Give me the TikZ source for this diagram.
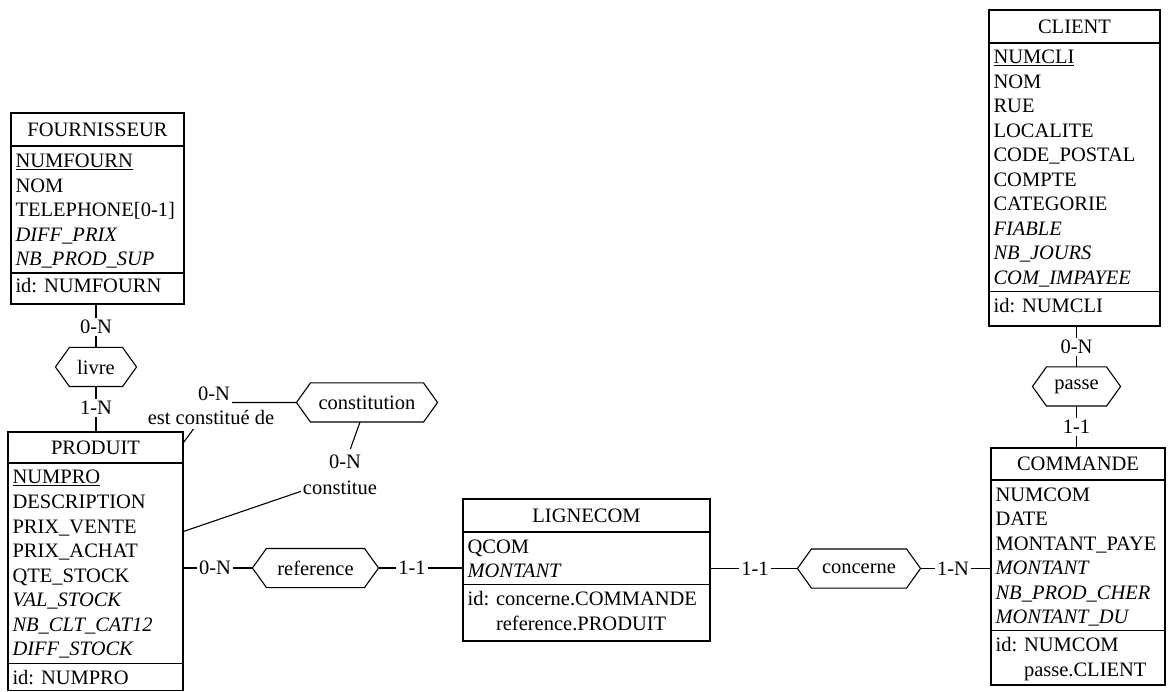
\documentclass[tikz,border=0pt]{standalone}
\usepackage{fontspec}
\setmainfont{Liberation Serif}
\begin{document}
\begin{tikzpicture}[x=1pt,y=-1pt,line width=1.1pt,
  font=\fontsize{20.5}{24.5}\selectfont,
  ent/.style={draw,rectangle,inner sep=0pt},
  hexn/.style={inner sep=0pt,minimum height=38pt},
  row/.style={anchor=base west,inner sep=0pt},
  hdr/.style={anchor=base,inner sep=0pt},
  card/.style={fill=white,inner xsep=2pt,inner ysep=2pt}]
\useasboundingbox (0,0) rectangle (1168,692);

% ---------- FOURNISSEUR ----------
\node[ent,minimum width=173pt,minimum height=191pt] (fourn) at (97.5,208.5) {};
\draw (11,146) -- (184,146);
\draw (11,273) -- (184,273);
\node[hdr] (fH) at (97.5,136.5) {FOURNISSEUR};
\node[row] (f1) at (15,168) {\underline{NUMFOURN}};
\node[row] (f2) at (15,192.5) {NOM};
\node[row] (f3) at (15,217) {TELEPHONE[0-1]};
\node[row] (f4) at (15,241.5) {\textit{DIFF\_PRIX}};
\node[row] (f5) at (15,266) {\textit{NB\_PROD\_SUP}};
\node[row] (f6) at (15,293) {id: NUMFOURN};

% ---------- PRODUIT ----------
\node[ent,minimum width=175pt,minimum height=258.5pt] (produit) at (95.5,561.25) {};
\draw (8,463) -- (183,463);
\draw (8,663.5) -- (183,663.5);
\node[hdr] (pH) at (95.5,454.5) {PRODUIT};
\node[row] (p1) at (12,484) {\underline{NUMPRO}};
\node[row] (p2) at (12,508.5) {DESCRIPTION};
\node[row] (p3) at (12,533) {PRIX\_VENTE};
\node[row] (p4) at (12,557.5) {PRIX\_ACHAT};
\node[row] (p5) at (12,582) {QTE\_STOCK};
\node[row] (p6) at (12,606.5) {\textit{VAL\_STOCK}};
\node[row] (p7) at (12,631) {\textit{NB\_CLT\_CAT12}};
\node[row] (p8) at (12,655.5) {\textit{DIFF\_STOCK}};
\node[row] (p9) at (12,684) {id: NUMPRO};

% ---------- CLIENT ----------
\node[ent,minimum width=171pt,minimum height=316pt] (client) at (1074.5,168) {};
\draw (989,43) -- (1160,43);
\draw (989,291.5) -- (1160,291.5);
\node[hdr] (cH) at (1074.5,33.5) {CLIENT};
\node[row] (c1) at (993,64) {\underline{NUMCLI}};
\node[row] (c2) at (993,88.5) {NOM};
\node[row] (c3) at (993,113) {RUE};
\node[row] (c4) at (993,137.5) {LOCALITE};
\node[row] (c5) at (993,162) {CODE\_POSTAL};
\node[row] (c6) at (993,186.5) {COMPTE};
\node[row] (c7) at (993,211) {CATEGORIE};
\node[row] (c8) at (993,235.5) {\textit{FIABLE}};
\node[row] (c9) at (993,260) {\textit{NB\_JOURS}};
\node[row] (c10) at (993,284.5) {\textit{COM\_IMPAYEE}};
\node[row] (c11) at (993,313) {id: NUMCLI};

% ---------- COMMANDE ----------
\node[ent,minimum width=174pt,minimum height=237pt] (commande) at (1078,566.5) {};
\draw (991,480) -- (1165,480);
\draw (991,630.5) -- (1165,630.5);
\node[hdr] (mH) at (1078,471) {COMMANDE};
\node[row] (m1) at (995,501) {NUMCOM};
\node[row] (m2) at (995,525.5) {DATE};
\node[row] (m3) at (995,550) {MONTANT\_PAYE};
\node[row] (m4) at (995,574.5) {\textit{MONTANT}};
\node[row] (m5) at (995,599) {\textit{NB\_PROD\_CHER}};
\node[row] (m6) at (995,623.5) {\textit{MONTANT\_DU}};
\node[row] (m7) at (995,651.5) {id: NUMCOM};
\node[row] (m8) at (995,676) {\phantom{id: }passe.CLIENT};

% ---------- LIGNECOM ----------
\node[ent,minimum width=247pt,minimum height=142pt] (lignecom) at (586.5,570) {};
\draw (463,532) -- (710,532);
\draw (463,584.5) -- (710,584.5);
\node[hdr] (lH) at (586.5,522.5) {LIGNECOM};
\node[row] (l1) at (467,553) {QCOM};
\node[row] (l2) at (467,577.5) {\textit{MONTANT}};
\node[row] (l3) at (467,605.5) {id: concerne.COMMANDE};
\node[row] (l4) at (467,630) {\phantom{id: }reference.PRODUIT};

% ---------- relationship hexagons ----------
\node[hexn,minimum width=80pt] (livre) at (96,367) {livre};
\node[hexn,minimum width=140pt] (constitution) at (367,402.5) {constitution};
\node[hexn,minimum width=125pt] (reference) at (315.5,568) {reference};
\node[hexn,minimum width=122pt] (concerne) at (859,568.5) {concerne};
\node[hexn,minimum width=87pt] (passe) at (1076.5,386.5) {passe};
\foreach \h in {livre,constitution,reference,concerne,passe}
  \draw (\h.west) -- ([xshift=14pt]\h.north west) -- ([xshift=-14pt]\h.north east)
        -- (\h.east) -- ([xshift=-14pt]\h.south east) -- ([xshift=14pt]\h.south west) -- cycle;

% ---------- connectors ----------
\draw (livre.north |- fourn.south) -- (livre.north);
\draw (livre.south) -- (livre.south |- produit.north);
\draw (passe.north |- client.south) -- (passe.north);
\draw (passe.south) -- (passe.south |- commande.north);
\draw (produit.east |- reference.west) -- (reference.west);
\draw (reference.east) -- (reference.east -| lignecom.west);
\draw (lignecom.east |- concerne.west) -- (concerne.west);
\draw (concerne.east) -- (concerne.east -| commande.west);
\coordinate (k1) at (213,402.5);
\draw (constitution.west) -- (k1) -- ([yshift=-11pt]produit.north east);
\coordinate (k2) at (340,478);
\draw ([xshift=-7pt]constitution.south) -- (k2) -- ([yshift=-100pt]produit.north east);

% ---------- cardinality / role labels ----------
\node[card] (r1) at (96,327) {0-N};
\node[card] (r2) at (96,408) {1-N};
\node[card] (r3) at (1076.5,347) {0-N};
\node[card] (r4) at (1076.5,427) {1-1};
\node[card] (r5) at (215,568) {0-N};
\node[card] (r6) at (412,568) {1-1};
\node[card] (r7) at (755,568.5) {1-1};
\node[card] (r8) at (953,568.5) {1-N};
\node[card,inner ysep=6pt] (r9) at (214,394) {0-N};
\node[card,inner ysep=5pt] (r10) at (211,417) {est constitué de};
\node[card,inner ysep=6pt] (r11) at (345,462) {0-N};
\node[card,inner ysep=6pt] (r12) at (340,488) {constitue};
\end{tikzpicture}
\end{document}
